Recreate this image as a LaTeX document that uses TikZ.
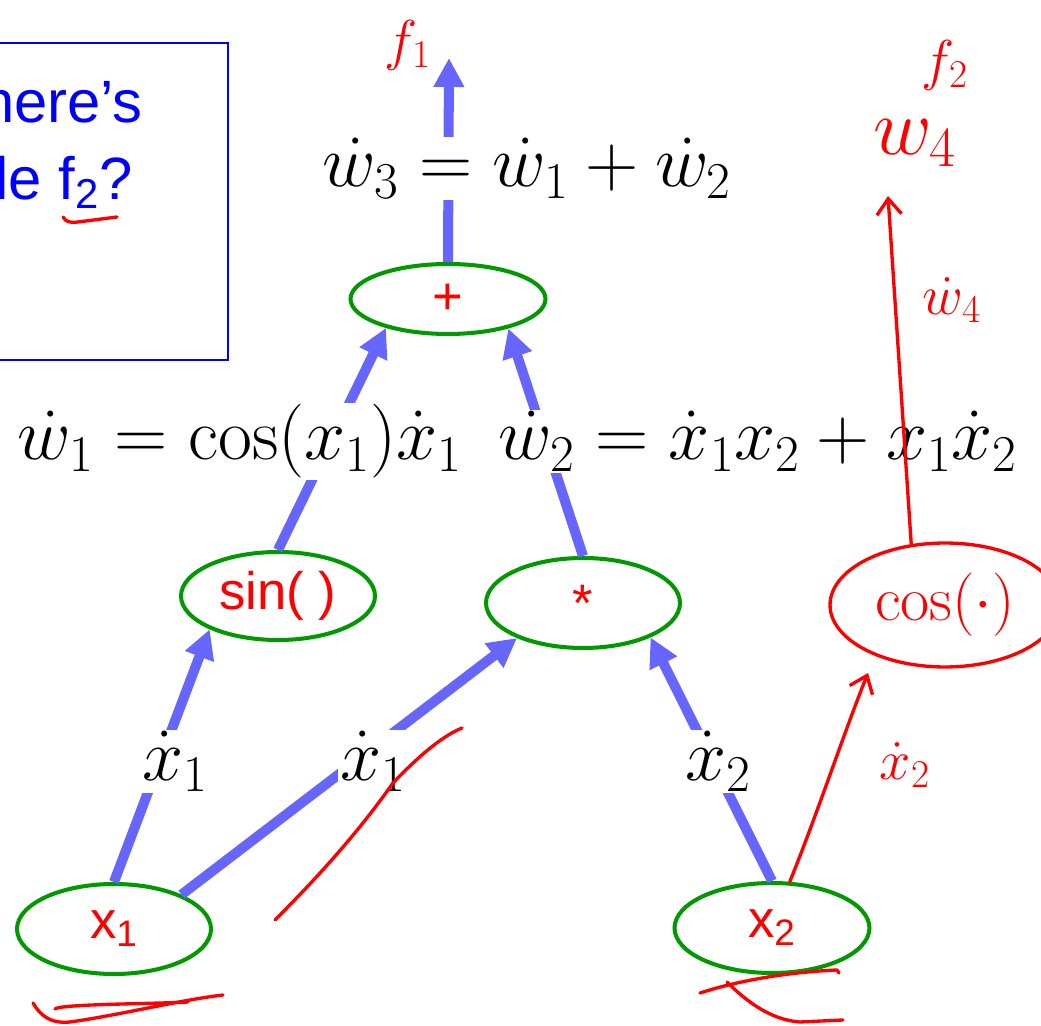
\documentclass[tikz,border=0pt]{standalone}
\usepackage{fix-cm}
\usepackage{fontspec}
\newfontfamily\slidefont{Liberation Sans}
\usetikzlibrary{shapes.geometric,arrows.meta}
\definecolor{FlowBlue}{RGB}{102,102,255}
\definecolor{OpGreen}{RGB}{0,153,0}
\definecolor{BoxBlue}{RGB}{0,0,255}
\definecolor{InkRed}{RGB}{255,0,0}
\tikzset{
  hand/.style={InkRed,line width=1.9pt,line cap=round,line join=round},
  handarrow/.style={hand,-{Straight Barb[length=9pt,width=14pt,line width=1.9pt]}},
}

\begin{document}
\begin{tikzpicture}[
  x=0.02cm, y=-0.02cm,
  opnode/.style={ellipse, draw=OpGreen, line width=2.3pt, minimum width=3.88cm, minimum height=1.8cm, inner sep=0pt, text=InkRed, font=\slidefont\fontsize{30}{32}\selectfont},
  flow/.style={-{Triangle[length=16.5pt,width=16.5pt]}, line width=5.7pt, FlowBlue},
  eqlabel/.style={fill=white, inner sep=1pt, font=\fontsize{42}{48}\selectfont},
  boxtext/.style={inner sep=0pt, text=BoxBlue, font=\slidefont\fontsize{34}{40}\selectfont},
  inktext/.style={InkRed, inner sep=1pt, font=\fontsize{32}{38}\selectfont},
  handell/.style={ellipse, draw=InkRed, line width=1.9pt, minimum width=4.6cm, minimum height=2.48cm, inner sep=0pt, text=InkRed, font=\fontsize{36}{42}\selectfont}
]
\useasboundingbox (0,0) rectangle (1041,1026);
\clip (0,0) rectangle (1041,1026);

% question box (cut at the left)
\draw[BoxBlue, line width=1.1pt] (-10,43) rectangle (228,360);
\node[boxtext, anchor=base east] (q1) at (143,123) {here’s};
\node[boxtext, anchor=base east] (q2) at (133,200) {le f\textsubscript{2}?};
\draw[hand] (63,217) .. controls (66,222) and (70,223) .. (78,222) -- (117,217);

% graph nodes
\node[opnode] (x1) at (114,929) {x\textsubscript{1}};
\node[opnode, minimum width=3.9cm] (x2) at (772,928) {x\textsubscript{2}};
\node[opnode, minimum height=1.76cm] (sin) at (278,596) {sin( )};
\node[opnode] (mul) at (583,603) {*};
\node[opnode, minimum width=3.9cm, minimum height=1.4cm] (add) at (448,299) {+};
\coordinate (f1out) at (449,58);

% edges
\draw[flow] (x1.north) -- (sin.206);
\draw[flow] (x1.27) -- (mul.208);
\draw[flow] (x2.north) -- (mul.333);
\draw[flow] (sin.north) -- (add.205);
\draw[flow] (mul.north) -- (add.334);
\draw[flow] (add.north) -- (f1out);

% derivative labels
\node[eqlabel, anchor=base] (dx1a) at (175,780) {$\dot x_1$};
\node[eqlabel, anchor=base] (dx1b) at (373,780) {$\dot x_1$};
\node[eqlabel, anchor=base] (dx2) at (718,780) {$\dot x_2$};
\node[eqlabel, anchor=base] (dw1) at (240,460) {$\dot w_1 = \cos(x_1)\dot x_1$};
\node[eqlabel, anchor=base] (dw2) at (758,460) {$\dot w_2 = \dot x_1 x_2 + x_1\dot x_2$};
\node[eqlabel, anchor=base] (dw3) at (527,187) {$\dot w_3 = \dot w_1 + \dot w_2$};

% red ink
\node[inktext] (f1) at (408,45) {$f_1$};
\node[inktext] (f2) at (945,65) {$f_2$};
\node[inktext, font=\fontsize{46}{52}\selectfont] (w4) at (915,143) {$w_4$};
\node[inktext] (dw4) at (952,300) {$\dot w_4$};
\node[handell] (cosop) at (945,605) {$\cos(\cdot)$};
\node[inktext] (dx2h) at (905,765) {$\dot x_2$};
\coordinate (w4tip) at (888,196);
\coordinate (costip) at (868,673);
\draw[handarrow] (cosop.119) -- (w4tip);
\draw[handarrow] (x2.69) .. controls (815,820) and (845,730) .. (costip);

% scribbles
\draw[hand] (275,920) .. controls (320,875) and (360,830) .. (393,783) .. controls (415,760) and (440,737) .. (462,728);
\draw[hand] (33,1003) .. controls (40,1015) and (50,1024) .. (70,1022) .. controls (120,1015) and (180,1000) .. (223,995);
\draw[hand] (55,1009) .. controls (60,1004) and (150,1004) .. (188,1002);
\draw[hand] (700,993) .. controls (740,980) and (790,972) .. (837,970) -- (839,973);
\draw[hand] (727,982) .. controls (745,1000) and (770,1020) .. (800,1022) -- (843,1020);
\end{tikzpicture}
\end{document}
